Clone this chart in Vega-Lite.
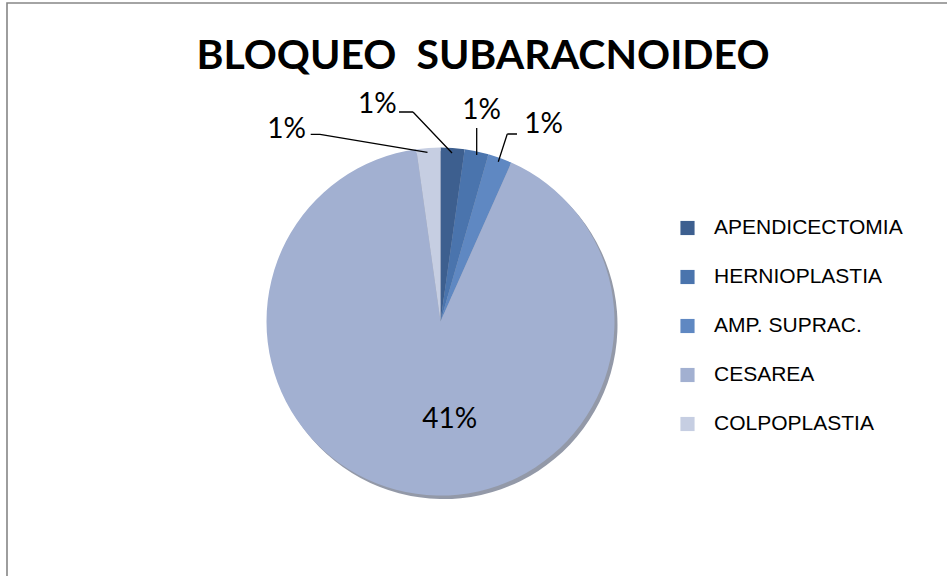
{
  "$schema": "https://vega.github.io/schema/vega-lite/v6.json",
  "width": 942,
  "height": 575,
  "autosize": {"type": "none"},
  "padding": {"left": 7, "top": 3, "right": 0, "bottom": 0},
  "background": "white",
  "view": {"stroke": "#868686", "strokeWidth": 1.6},
  "config": {
    "view": {"stroke": "#868686", "strokeWidth": 1.6},
    "font": "Lato"
  },
  "title": {
    "text": "BLOQUEO \u00a0SUBARACNOIDEO",
    "font": "Lato",
    "fontSize": 41,
    "fontWeight": "bold",
    "color": "#000000",
    "anchor": "middle",
    "frame": "group",
    "orient": "top",
    "offset": -75,
    "dx": 5
  },
  "data": {
    "values": [
      {"cat": "APENDICECTOMIA", "p": 0.01, "n": 1},
      {"cat": "HERNIOPLASTIA", "p": 0.01, "n": 2},
      {"cat": "AMP. SUPRAC.", "p": 0.01, "n": 3},
      {"cat": "CESAREA", "p": 0.41, "n": 4},
      {"cat": "COLPOPLASTIA", "p": 0.01, "n": 5}
    ]
  },
  "encoding": {
    "theta": {"field": "p", "type": "quantitative", "stack": true},
    "order": {"field": "n", "type": "quantitative"}
  },
  "layer": [
    {
      "mark": {"type": "arc", "radius": 174, "xOffset": -34.5, "yOffset": 34.5, "fill": "#3a4560", "opacity": 0.55},
      "encoding": {}
    },
    {
      "mark": {"type": "arc", "radius": 174, "xOffset": -37.5, "yOffset": 31},
      "encoding": {
        "color": {
          "field": "cat",
          "type": "nominal",
          "scale": {
            "domain": ["APENDICECTOMIA", "HERNIOPLASTIA", "AMP. SUPRAC.", "CESAREA", "COLPOPLASTIA"],
            "range": ["#3d5f8f", "#4a74ad", "#5f88c2", "#a2b0d1", "#c6cee2"]
          },
          "legend": {
            "title": null,
            "orient": "none",
            "legendX": 670,
            "legendY": 214.5,
            "padding": 0,
            "symbolType": "square",
            "symbolSize": 200,
            "symbolStrokeWidth": 0,
            "labelFont": "Liberation Sans",
            "labelFontSize": 21,
            "labelColor": "#000000",
            "labelOffset": 16,
            "rowPadding": 27,
            "labelLimit": 300
          }
        }
      }
    },
    {
      "mark": {"type": "arc", "radius2": 20, "radius": 76.6, "padAngle": 0.6, "fill": null, "stroke": "#000000", "strokeWidth": 1.3, "xOffset": -12.2, "yOffset": -123, "thetaOffset": -0.8303, "theta2Offset": -0.8303},
      "encoding": {"strokeOpacity": {"condition": {"test": "datum.cat === 'APENDICECTOMIA'", "value": 1}, "value": 0}}
    },
    {
      "mark": {"type": "arc", "radius2": 20, "radius": 34, "padAngle": 0.6, "fill": null, "stroke": "#000000", "strokeWidth": 1.3, "xOffset": -45, "yOffset": -178.5, "thetaOffset": -1.6406, "theta2Offset": -1.6406},
      "encoding": {"strokeOpacity": {"condition": {"test": "datum.cat === 'APENDICECTOMIA'", "value": 1}, "value": 0}}
    },
    {
      "mark": {"type": "arc", "radius2": 20, "radius": 47, "padAngle": 0.6, "fill": null, "stroke": "#000000", "strokeWidth": 1.3, "xOffset": -1.3, "yOffset": -115.5, "thetaOffset": -0.2094, "theta2Offset": -0.2094},
      "encoding": {"strokeOpacity": {"condition": {"test": "datum.cat === 'HERNIOPLASTIA'", "value": 1}, "value": 0}}
    },
    {
      "mark": {"type": "arc", "radius2": 20, "radius": 49.1, "padAngle": 0.6, "fill": null, "stroke": "#000000", "strokeWidth": 1.3, "xOffset": 14.1, "yOffset": -109.8, "thetaOffset": -0.0349, "theta2Offset": -0.0349},
      "encoding": {"strokeOpacity": {"condition": {"test": "datum.cat === 'AMP. SUPRAC.'", "value": 1}, "value": 0}}
    },
    {
      "mark": {"type": "arc", "radius2": 20, "radius": 29.7, "padAngle": 0.6, "fill": null, "stroke": "#000000", "strokeWidth": 1.3, "xOffset": 9.3, "yOffset": -156.5, "thetaOffset": 1.2217, "theta2Offset": 1.2217},
      "encoding": {"strokeOpacity": {"condition": {"test": "datum.cat === 'AMP. SUPRAC.'", "value": 1}, "value": 0}}
    },
    {
      "mark": {"type": "arc", "radius2": 20, "radius": 129, "padAngle": 0.6, "fill": null, "stroke": "#000000", "strokeWidth": 1.3, "xOffset": -30.8, "yOffset": -134.7, "thetaOffset": -1.3333, "theta2Offset": -1.3333},
      "encoding": {"strokeOpacity": {"condition": {"test": "datum.cat === 'COLPOPLASTIA'", "value": 1}, "value": 0}}
    },
    {
      "mark": {"type": "arc", "radius2": 20, "radius": 29.3, "padAngle": 0.6, "fill": null, "stroke": "#000000", "strokeWidth": 1.3, "xOffset": -138, "yOffset": -156.2, "thetaOffset": -1.5010, "theta2Offset": -1.5010},
      "encoding": {"strokeOpacity": {"condition": {"test": "datum.cat === 'COLPOPLASTIA'", "value": 1}, "value": 0}}
    },
    {
      "mark": {"type": "text", "radius": 95, "font": "Lato", "fontSize": 28, "color": "#000000", "xOffset": -37.5, "yOffset": 31, "dx": 22.5, "dy": 4},
      "encoding": {
        "text": {"condition": {"test": "datum.cat === 'CESAREA'", "field": "p", "format": ".0%"}, "value": ""}
      }
    },
    {
      "mark": {"type": "text", "radius": 212, "font": "Lato", "fontSize": 28, "color": "#000000", "xOffset": -37.5, "yOffset": 31, "dx": -3, "dy": -3},
      "encoding": {
        "text": {"condition": {"test": "datum.cat === 'HERNIOPLASTIA'", "field": "p", "format": ".0%"}, "value": ""}
      }
    },
    {
      "mark": {"type": "text", "radius": 212, "font": "Lato", "fontSize": 28, "color": "#000000", "xOffset": -37.5, "yOffset": 31, "dx": 30.5, "dy": 3},
      "encoding": {
        "text": {"condition": {"test": "datum.cat === 'AMP. SUPRAC.'", "field": "p", "format": ".0%"}, "value": ""}
      }
    },
    {
      "mark": {"type": "text", "radius": 212, "font": "Lato", "fontSize": 28, "color": "#000000", "xOffset": -37.5, "yOffset": 31, "dx": -78, "dy": -5.5},
      "encoding": {
        "text": {"condition": {"test": "datum.cat === 'APENDICECTOMIA'", "field": "p", "format": ".0%"}, "value": ""}
      }
    },
    {
      "mark": {"type": "text", "radius": 212, "font": "Lato", "fontSize": 28, "color": "#000000", "xOffset": -37.5, "yOffset": 31, "dx": -139, "dy": 19.5},
      "encoding": {
        "text": {"condition": {"test": "datum.cat === 'COLPOPLASTIA'", "field": "p", "format": ".0%"}, "value": ""}
      }
    }
  ]
}
